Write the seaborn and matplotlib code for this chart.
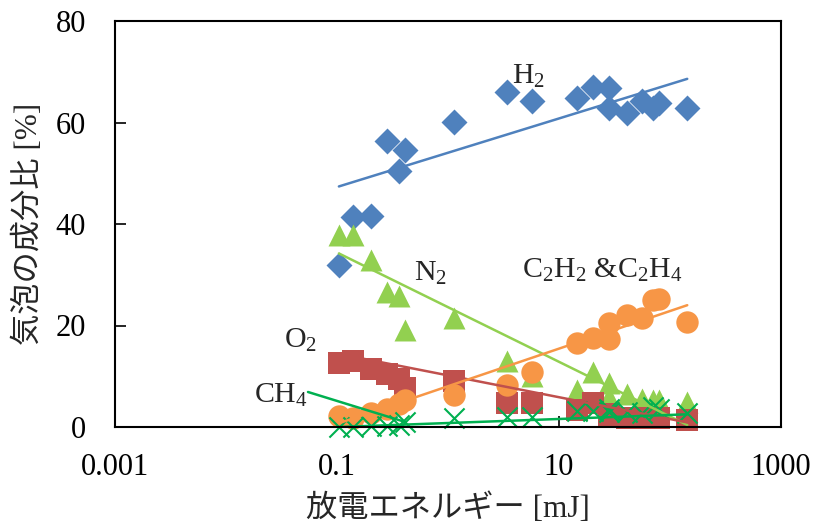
import numpy as np
import pandas as pd
import matplotlib
matplotlib.use("Agg")
import matplotlib.pyplot as plt
import seaborn as sns
from matplotlib.ticker import FixedLocator, FixedFormatter, NullLocator

# ---- data ----
energy = [0.104, 0.140, 0.202, 0.282, 0.362, 0.41, 1.13, 3.42, 5.68,
          14.6, 20.1, 28.4, 28.4, 40.7, 56.3, 69.9, 79.6, 143]
h2 = [31.9, 41.4, 41.5, 56.3, 50.4, 54.5, 60.1, 66.1, 64.2,
      64.8, 66.9, 66.8, 62.9, 61.9, 64.2, 62.9, 63.8, 62.9]
n2 = [37.8, 37.8, 32.9, 26.6, 25.8, 19.1, 21.4, 13.0, 10.0,
      7.3, 10.9, 8.6, 6.0, 6.6, 5.6, 5.3, 5.3, 5.0]
o2 = [12.7, 13.0, 11.5, 10.5, 9.5, 7.6, 9.0, 4.7, 4.7,
      3.3, 4.8, 2.0, 2.5, 1.8, 1.8, 1.7, 1.7, 1.4]
c2h2 = [2.2, 1.8, 2.7, 3.5, 4.5, 5.3, 6.3, 8.3, 10.9,
        16.5, 17.5, 17.3, 20.4, 22.0, 21.4, 25.0, 25.3, 20.6]
ch4 = [0.0, 0.0, 0.1, 0.2, 0.3, 1.0, 1.7, 2.0, 2.0,
       3.2, 3.2, 3.0, 3.6, 3.0, 2.8, 3.9, 3.5, 2.7]

# trend lines (value at first and last energy)
trend_h2 = [47.4, 68.6]
trend_n2 = [34.2, 0.4]
trend_o2 = [14.4, 0.9]
trend_c2h2 = [0.75, 24.0]
trend_ch4 = [0.0, 2.5]

x_ticks = [0.001, 0.1, 10, 1000]
x_tick_labels = ["0.001", "0.1", "10", "1000"]
y_ticks = [0, 20, 40, 60, 80]

series_names = ["H2", "N2", "O2", "C2H2", "CH4"]
series_vals = [h2, n2, o2, c2h2, ch4]
trends = [trend_h2, trend_n2, trend_o2, trend_c2h2, trend_ch4]

# ---- styles ----
colors = {"H2": "#4F81BD", "N2": "#92D050", "O2": "#C0504D",
          "C2H2": "#F79646", "CH4": "#00B050"}
markers = {"H2": "D", "N2": "^", "O2": "s", "C2H2": "o", "CH4": "x"}
sizes = {"H2": 175, "N2": 250, "O2": 250, "C2H2": 260, "CH4": 210}

sns.set_style("white")
plt.rcParams['font.family'] = ['Liberation Serif', 'Noto Sans CJK JP']
plt.rcParams['mathtext.fontset'] = 'custom'
plt.rcParams['mathtext.rm'] = 'Liberation Serif'
plt.rcParams['mathtext.it'] = 'Liberation Serif:italic'
plt.rcParams['mathtext.bf'] = 'Liberation Serif:bold'
FS_TICK = 22
FS_LAB = 22.5
FS_TXT = 21.5

fig = plt.figure(figsize=(8.16, 5.29), dpi=100)
ax = fig.add_axes([115/816, 1-427/529, (781-115)/816, (427-21)/529])

for name, vals in zip(series_names, series_vals):
    df = pd.DataFrame({"x": energy, "y": vals})
    if markers[name] == "x":
        sns.scatterplot(data=df, x="x", y="y", ax=ax, marker="x",
                        color=colors[name], s=sizes[name], linewidth=1.5,
                        zorder=3, clip_on=False)
    else:
        sns.scatterplot(data=df, x="x", y="y", ax=ax, marker=markers[name],
                        color=colors[name], s=sizes[name], linewidth=0,
                        zorder=3, clip_on=False)

for name, tr in zip(series_names, trends):
    tdf = pd.DataFrame({"x": [energy[0], energy[-1]], "y": tr})
    sns.lineplot(data=tdf, x="x", y="y", ax=ax, color=colors[name],
                 linewidth=1.8, zorder=4)

ax.set_xscale("log")
ax.set_xlim(0.001, 1000)
ax.set_ylim(0, 80)
ax.xaxis.set_major_locator(FixedLocator(x_ticks))
ax.xaxis.set_major_formatter(FixedFormatter(x_tick_labels))
ax.xaxis.set_minor_locator(NullLocator())
ax.set_yticks(y_ticks)
ax.set_yticklabels([str(v) for v in y_ticks])

ax.tick_params(axis="both", direction="in", length=8, width=1.2,
               labelsize=FS_TICK, colors="black")
ax.tick_params(axis="x", pad=19, bottom=True, top=False)
ax.tick_params(axis="y", pad=21, left=True, right=False)
for sp in ax.spines.values():
    sp.set_color("black")
    sp.set_linewidth(1.5)
    sp.set_zorder(5)

ax.set_xlabel("放電エネルギー [mJ]", fontsize=FS_LAB, va="center")
ax.set_ylabel("気泡の成分比 [%]", fontsize=FS_LAB, va="center")
ax.xaxis.set_label_coords(0.5, (427-509)/406)
ax.yaxis.set_label_coords((29-115)/666, 0.5)

# series labels
ax.text(5.37, 69.0, r"H$_2$", fontsize=FS_TXT, ha="center", va="center")
ax.text(0.69, 30.3, r"N$_2$", fontsize=FS_TXT, ha="center", va="center")
ax.text(24.3, 30.9, r"C$_2$H$_2$ &C$_2$H$_4$", fontsize=FS_TXT, ha="center", va="center")
ax.text(0.047, 17.1, r"O$_2$", fontsize=FS_TXT, ha="center", va="center")
ax.text(0.031, 6.3, r"CH$_4$", fontsize=FS_TXT, ha="center", va="center")

# pointer line from CH4 label to its data
ptr_x = [0.0548, energy[5]]
ptr_y = [6.9, ch4[5]]
ax.plot(ptr_x, ptr_y, color=colors["CH4"], linewidth=1.8, zorder=4)

fig.savefig("out.png", dpi=100)
